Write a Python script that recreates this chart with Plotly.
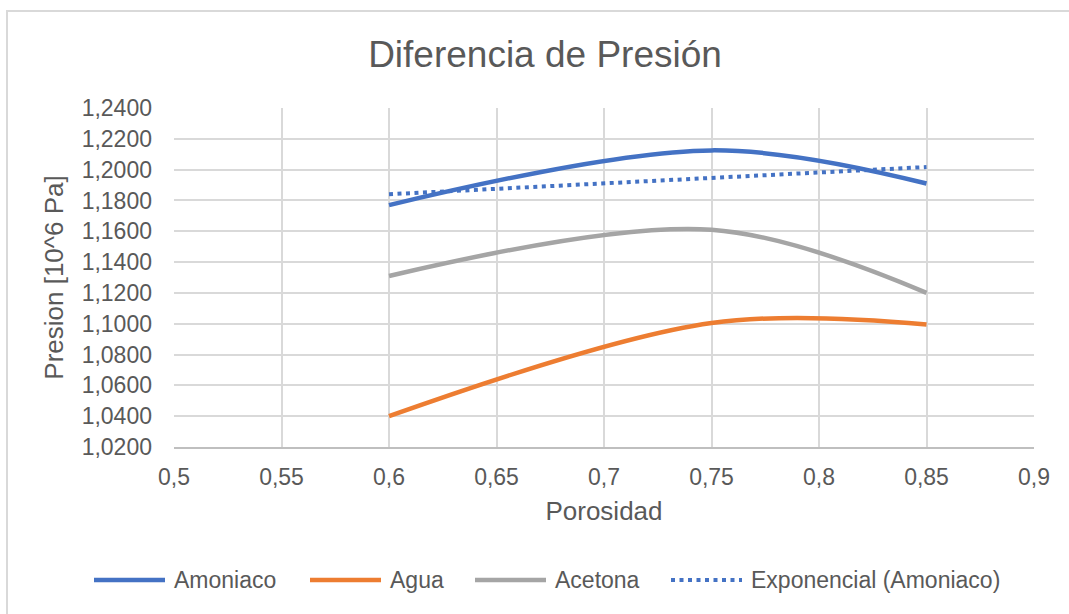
import numpy as np
import plotly.graph_objects as go

# Porosity values and pressure difference per fluid [10^6 Pa]
porosidad = [0.6, 0.75, 0.85]
amoniaco = [1.177, 1.2125, 1.191]
agua = [1.040, 1.1005, 1.0995]
acetona = [1.131, 1.161, 1.120]

series_names = ["Amoniaco", "Agua", "Acetona"]
series_colors = ["#4472C4", "#ED7D31", "#A5A5A5"]
trend_name = "Exponencial (Amoniaco)"

x_ticks = [0.5, 0.55, 0.6, 0.65, 0.7, 0.75, 0.8, 0.85, 0.9]

W, H = 1069, 614
ML, MR, MT, MB = 174, 35, 108, 167
PW, PH = W - ML - MR, H - MT - MB
TEXT = "#595959"
GRID = "#D9D9D9"
FONT = "Liberation Sans, Arial, sans-serif"


def px_to_paper(px, py):
    return (px - ML) / PW, (H - MB - py) / PH


fig = go.Figure()
for name, ys, color in zip(series_names, [amoniaco, agua, acetona], series_colors):
    fig.add_trace(go.Scatter(
        x=porosidad, y=ys, name=name, mode="lines",
        line=dict(color=color, width=4.5, shape="spline", smoothing=1),
        showlegend=False,
    ))

# Exponential trendline fitted to the Amoniaco series: y = a * exp(b x)
b, ln_a = np.polyfit(porosidad, np.log(amoniaco), 1)
xt = np.linspace(min(porosidad), max(porosidad), 60)
yt = np.exp(ln_a) * np.exp(b * xt)
fig.add_trace(go.Scatter(
    x=xt, y=yt, name=trend_name, mode="lines",
    line=dict(color="#4472C4", width=4, dash="4px,4.5px"),
    showlegend=False,
))

# Chart-area border
bx0, by0 = px_to_paper(7, 11)
shapes = [dict(type="rect", xref="paper", yref="paper", x0=bx0, y0=-1.0,
               x1=1.5, y1=by0, line=dict(color=GRID, width=2), layer="below")]

# Legend row drawn below the plot
legend_items = [
    ("Amoniaco", "#4472C4", "solid", 94),
    ("Agua", "#ED7D31", "solid", 310),
    ("Acetona", "#A5A5A5", "solid", 475),
    (trend_name, "#4472C4", "4px,4.5px", 671),
]
annotations = []
leg_y = 580
for label, color, dash, x0 in legend_items:
    lx0, ly = px_to_paper(x0, leg_y)
    lx1, _ = px_to_paper(x0 + 71, leg_y)
    tx, _ = px_to_paper(x0 + 78, leg_y)
    shapes.append(dict(type="line", xref="paper", yref="paper",
                       x0=lx0, x1=lx1, y0=ly, y1=ly,
                       line=dict(color=color, width=4 if dash != "solid" else 4.5, dash=dash)))
    annotations.append(dict(xref="paper", yref="paper", x=tx, y=ly,
                            xanchor="left", yanchor="middle", showarrow=False,
                            text=label, font=dict(size=23, color=TEXT, family=FONT)))

fig.update_layout(
    width=W, height=H,
    margin=dict(l=ML, r=MR, t=MT, b=MB),
    paper_bgcolor="white", plot_bgcolor="white",
    separators=",.",
    font=dict(family=FONT, color=TEXT, size=23),
    title=dict(text="Diferencia de Presión", x=545 / W, xref="container",
               y=1 - 54 / H, yref="container", xanchor="center", yanchor="middle",
               font=dict(size=37, color=TEXT, family=FONT)),
    xaxis=dict(range=[0.5, 0.9], tickvals=x_ticks, showgrid=True, gridcolor=GRID,
               gridwidth=2, zeroline=False, showline=True, linecolor="#BFBFBF",
               linewidth=2, ticks="", ticklabelstandoff=8,
               tickfont=dict(size=23, color=TEXT),
               title=dict(text="Porosidad", standoff=13,
                          font=dict(size=26, color=TEXT))),
    yaxis=dict(range=[1.02, 1.24], dtick=0.02, tick0=1.02, tickformat=".4f",
               showgrid=True, gridcolor=GRID, gridwidth=2, zeroline=False,
               showline=False, ticks="", ticklabelstandoff=21,
               tickfont=dict(size=23, color=TEXT),
               title=dict(text="Presion [10^6 Pa]", standoff=10,
                          font=dict(size=26, color=TEXT))),
    shapes=shapes,
    annotations=annotations,
    showlegend=False,
)

fig.write_html("out.html")
